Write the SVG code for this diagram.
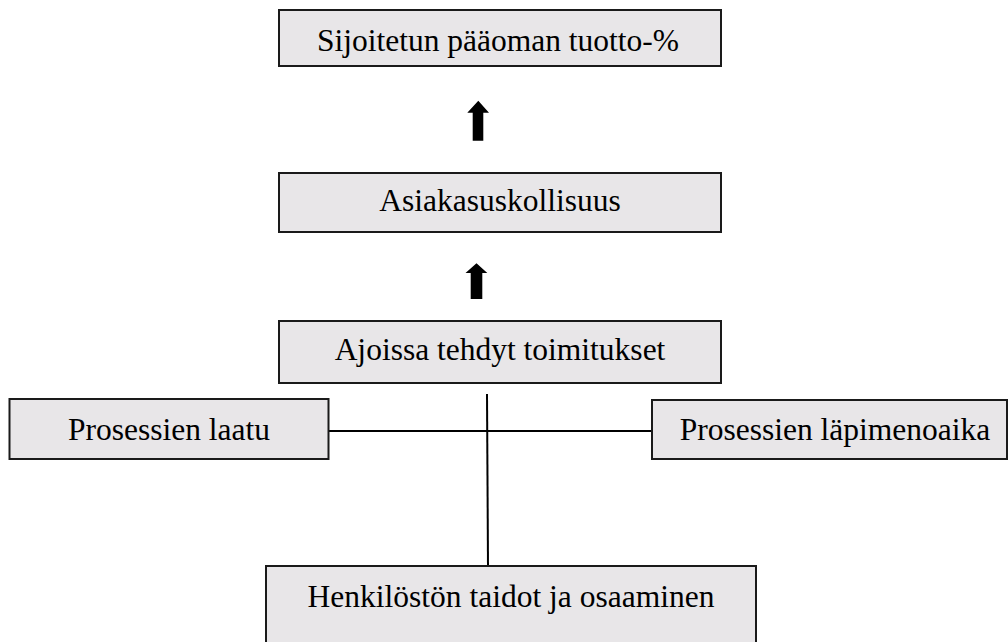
<svg xmlns="http://www.w3.org/2000/svg" width="1008" height="642" viewBox="0 0 1008 642">
<style>
.box{fill:#e8e6e8;stroke:#1a1a1a;stroke-width:2}
.t{font-family:"Liberation Serif","Times New Roman",serif;font-size:31.5px;fill:#000;text-anchor:middle}
.ln{stroke:#000;stroke-width:2;fill:none}
.arr{fill:#000}
</style>
<rect width="1008" height="642" fill="#fff"/>
<g id="connectors">
<line class="ln" x1="329" y1="431" x2="652" y2="431"/>
<line class="ln" x1="487" y1="394" x2="488" y2="566"/>
<path class="arr" d="M478.3,100.7 L489,112.7 L483.3,112.7 L483.3,140.7 L472.7,140.7 L472.7,112.7 L467.3,112.7 Z"/>
<path class="arr" d="M476.5,263.3 L487.3,273 L482.3,273 L482.3,299 L470.7,299 L470.7,273 L465.5,273 Z"/>
</g>
<g id="n1"><rect class="box" x="279" y="10" width="442" height="56"/><text class="t" x="498" y="50.5">Sijoitetun pääoman tuotto-%</text></g>
<g id="n2"><rect class="box" x="279" y="173" width="442" height="59"/><text class="t" x="500" y="211">Asiakasuskollisuus</text></g>
<g id="n3"><rect class="box" x="279" y="321" width="442" height="62"/><text class="t" x="500" y="360">Ajoissa tehdyt toimitukset</text></g>
<g id="n4"><rect class="box" x="9.5" y="399" width="319" height="60"/><text class="t" x="169" y="439.5">Prosessien laatu</text></g>
<g id="n5"><rect class="box" x="652" y="400" width="355" height="59"/><text class="t" x="835" y="439.5">Prosessien läpimenoaika</text></g>
<g id="n6"><rect class="box" x="266" y="566" width="490" height="90"/><text class="t" x="511" y="607">Henkilöstön taidot ja osaaminen</text></g>
</svg>
